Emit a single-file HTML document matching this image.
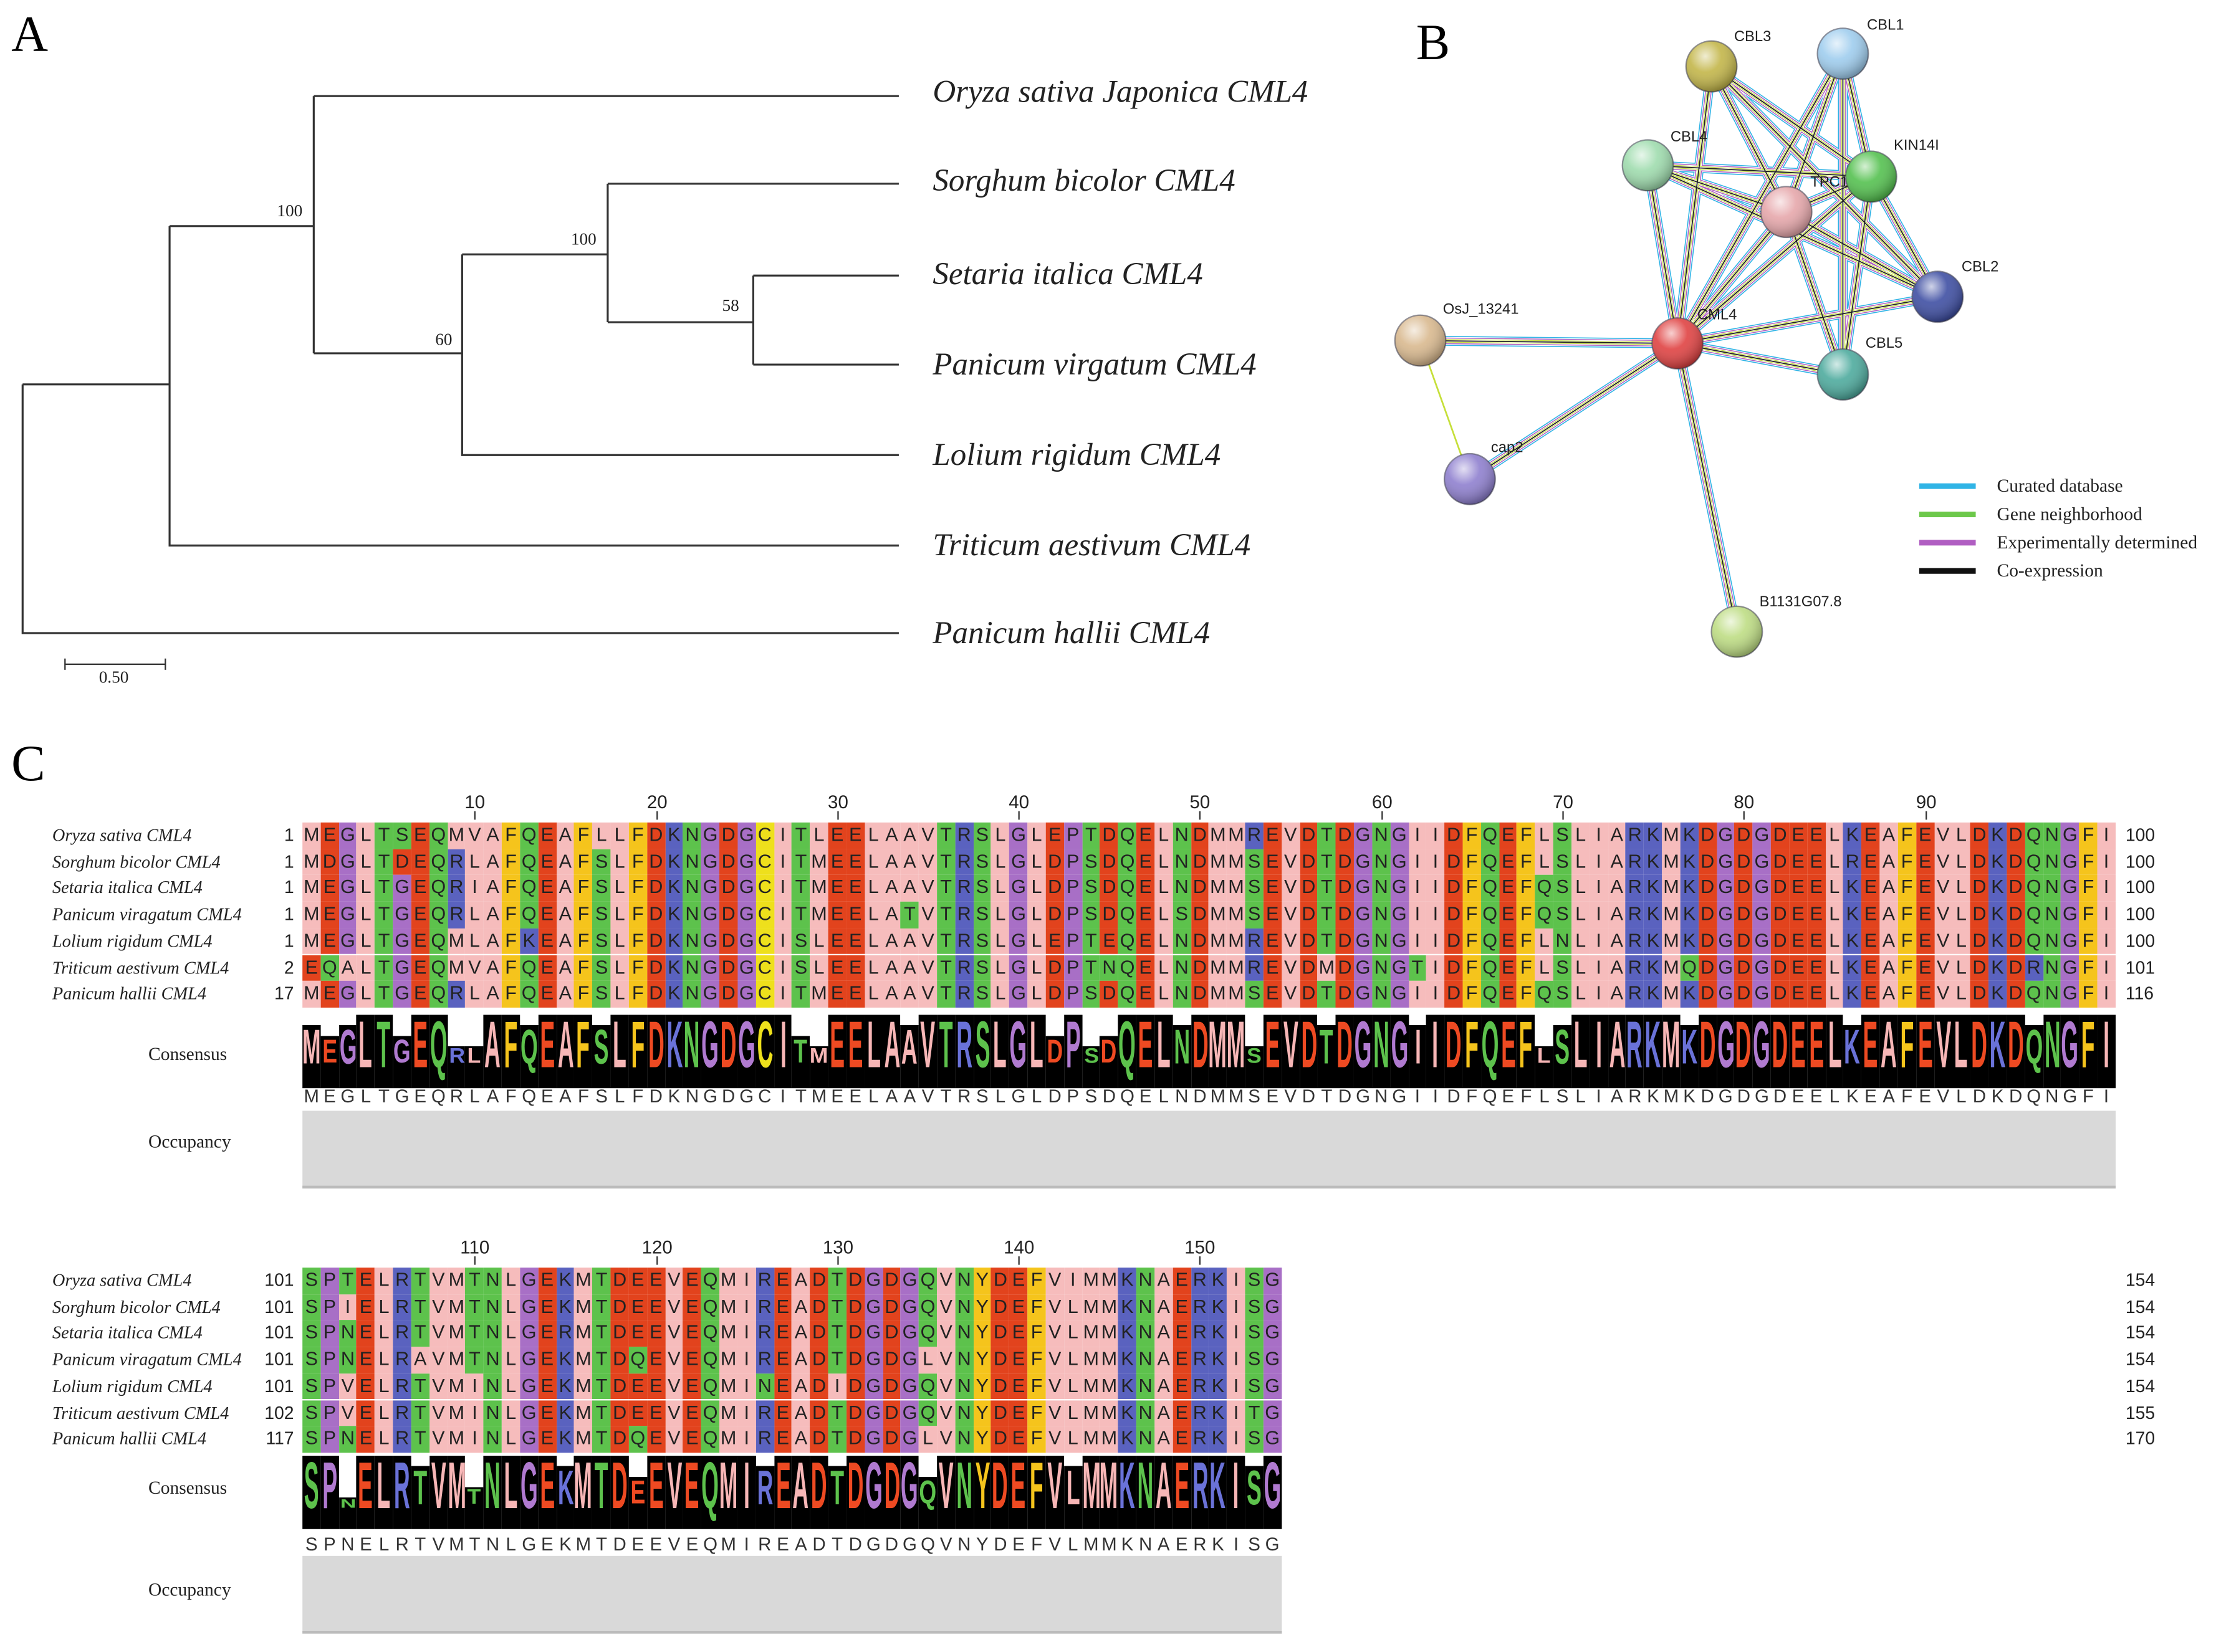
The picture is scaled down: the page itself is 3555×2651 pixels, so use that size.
<!DOCTYPE html>
<html><head><meta charset="utf-8"><style>
html,body{margin:0;padding:0;background:#fff;width:3555px;height:2651px;overflow:hidden}
#w{position:absolute;left:0;top:0;width:1568px;height:1169px;transform:scale(2.2672,2.2678);transform-origin:0 0;font-family:"Liberation Sans",sans-serif}
svg{position:absolute;left:0;top:0}
.r{position:absolute;left:214px;display:flex;height:18.7px}
.r i,.t i{font-style:normal;display:block;width:12.83px;height:18.7px;line-height:18.7px;text-align:center;font-size:13.5px;color:#222}
.r .A,.r .V,.r .L,.r .I,.r .M,.r .W{background:#f6bcbc}
.r .F,.r .Y{background:#f5c41c}.r .C{background:#eee01c}
.r .G,.r .P{background:#a86fc6}
.r .D,.r .E{background:#e2431d}
.r .K,.r .R,.r .H{background:#5a62bf}
.r .S,.r .T,.r .N,.r .Q{background:#5dc24c}
.cn{position:absolute;left:214px;display:flex}
.cn b{position:relative;width:12.83px;height:52px;background:linear-gradient(#fff calc((1 - var(--f,1))*52px),#000 0);overflow:hidden}
.cn b i{position:absolute;left:0;width:100%;top:calc((1 - var(--f,1))*52px);text-align:center;font:bold 15px/15px "Liberation Sans",sans-serif;font-style:normal;transform-origin:50% 0;transform:scale(1.05,calc(var(--f,1)*var(--f,1)*3.1))}
.cn .A,.cn .V,.cn .L,.cn .I,.cn .M{color:#f7b6b6}
.cn .F,.cn .Y{color:#f5c41c}.cn .C{color:#eee01c}
.cn .G,.cn .P{color:#b07ad0}
.cn .D,.cn .E{color:#ee4a22}
.cn .K,.cn .R{color:#6a72d8}
.cn .S,.cn .T,.cn .N,.cn .Q{color:#5dc24c}
.t{position:absolute;left:214px;display:flex}
.t i{color:#333;font-size:13px}
.lb{position:absolute;left:37px;font:italic 12.5px/18.7px "Liberation Serif",serif;color:#222;white-space:nowrap}
.n{position:absolute;width:40px;text-align:right;font:12.5px/18.7px "Liberation Sans",sans-serif;color:#222}
.n2{position:absolute;left:1504px;font:12.5px/18.7px "Liberation Sans",sans-serif;color:#222}
.occ{position:absolute;left:214px;background:#d9d9d9;border-bottom:2px solid #bbb}
.hd{position:absolute;font:13px "Liberation Serif",serif;color:#222}
</style></head><body><div id="w">
<svg width="1568" height="1169" viewBox="0 0 1568 1169">
<defs>
<radialGradient id="gl" cx="0.38" cy="0.3" r="0.7"><stop offset="0" stop-color="#fff" stop-opacity=".75"/><stop offset=".45" stop-color="#fff" stop-opacity=".1"/><stop offset="1" stop-color="#000" stop-opacity=".3"/></radialGradient>
<path id="ed" fill="none" d="M1187 243L1211 47M1187 243L1304 38M1187 243L1166 117M1187 243L1324 125M1187 243L1264 150M1187 243L1371 210M1187 243L1304 265M1187 243L1005 241M1187 243L1040 339M1187 243L1229 447M1211 47L1264 150M1211 47L1324 125M1211 47L1371 210M1304 38L1264 150M1304 38L1324 125M1304 38L1304 265M1166 117L1264 150M1166 117L1324 125M1166 117L1371 210M1264 150L1324 125M1264 150L1371 210M1264 150L1304 265M1324 125L1371 210M1324 125L1304 265"/>
</defs>
<text x="8" y="36" font-family="Liberation Serif" font-size="36">A</text>
<g stroke="#333" stroke-width="1.4" fill="none">
<path d="M16 272V448H636M16 272H120M120 160V386H636M120 160H222M222 68V250M222 68H636M222 250H327M327 180V322H636M327 180H430M430 130V228M430 130H636M430 228H533M533 195V258M533 195H636M533 258H636"/>
<path d="M46 470H117M46 466V474M117 466V474" stroke-width="1"/>
</g>
<g font-family="Liberation Serif" font-size="12" fill="#222">
<text x="196" y="153">100</text><text x="404" y="173">100</text><text x="308" y="244">60</text><text x="511" y="220">58</text><text x="70" y="483">0.50</text>
</g>
<g font-family="Liberation Serif" font-style="italic" font-size="22.5" fill="#222">
<text x="660" y="72">Oryza sativa Japonica CML4</text>
<text x="660" y="135">Sorghum bicolor CML4</text>
<text x="660" y="201">Setaria italica CML4</text>
<text x="660" y="265">Panicum virgatum CML4</text>
<text x="660" y="329">Lolium rigidum CML4</text>
<text x="660" y="393">Triticum aestivum CML4</text>
<text x="660" y="455">Panicum hallii CML4</text>
</g>
<text x="1002" y="42" font-family="Liberation Serif" font-size="36">B</text>
<text x="8" y="552" font-family="Liberation Serif" font-size="36">C</text>
<g fill="none">
<use href="#ed" stroke="#30b4e6" stroke-width="7"/>
<use href="#ed" stroke="#fff" stroke-width="5.6"/>
<use href="#ed" stroke="#b05ec2" stroke-width="4.6"/>
<use href="#ed" stroke="#fff" stroke-width="3.3"/>
<use href="#ed" stroke="#c6df3a" stroke-width="2.4"/>
<use href="#ed" stroke="#fff" stroke-width="1.4"/>
<use href="#ed" stroke="#222" stroke-width=".8"/>
</g>
<path d="M1005 241L1040 339" stroke="#c6df3a" stroke-width="1.2"/>
<g stroke="#445" stroke-width="1" stroke-opacity=".6">
<circle cx="1211" cy="47" r="18" fill="#c3b64a"/><circle cx="1304" cy="38" r="18" fill="#9fcdee"/>
<circle cx="1166" cy="117" r="18" fill="#9fdcae"/><circle cx="1324" cy="125" r="18" fill="#55c150"/>
<circle cx="1264" cy="150" r="18" fill="#e6a7ab"/><circle cx="1371" cy="210" r="18" fill="#3f4fa3"/>
<circle cx="1005" cy="241" r="18" fill="#d9b98f"/><circle cx="1187" cy="243" r="18" fill="#e04343"/>
<circle cx="1304" cy="265" r="18" fill="#4eab9e"/><circle cx="1040" cy="339" r="18" fill="#8f80cf"/>
<circle cx="1229" cy="447" r="18" fill="#bedd84"/>
</g>
<g fill="url(#gl)">
<circle cx="1211" cy="47" r="18"/><circle cx="1304" cy="38" r="18"/><circle cx="1166" cy="117" r="18"/><circle cx="1324" cy="125" r="18"/><circle cx="1264" cy="150" r="18"/><circle cx="1371" cy="210" r="18"/><circle cx="1005" cy="241" r="18"/><circle cx="1187" cy="243" r="18"/><circle cx="1304" cy="265" r="18"/><circle cx="1040" cy="339" r="18"/><circle cx="1229" cy="447" r="18"/>
</g>
<g font-family="Liberation Sans" font-size="10.5" fill="#222">
<text x="1227" y="29">CBL3</text><text x="1321" y="21">CBL1</text><text x="1182" y="100">CBL4</text><text x="1340" y="106">KIN14I</text><text x="1281" y="132">TPC1</text><text x="1388" y="192">CBL2</text><text x="1021" y="222">OsJ_13241</text><text x="1201" y="226">CML4</text><text x="1320" y="246">CBL5</text><text x="1055" y="320">cap2</text><text x="1245" y="429">B1131G07.8</text>
</g>
<g stroke-width="4"><path d="M1358 344H1398" stroke="#30b4e6"/><path d="M1358 364H1398" stroke="#6cc84a"/><path d="M1358 384H1398" stroke="#b05ec2"/><path d="M1358 404H1398" stroke="#111"/></g>
<g font-family="Liberation Serif" font-size="13" fill="#222"><text x="1413" y="348">Curated database</text><text x="1413" y="368">Gene neighborhood</text><text x="1413" y="388">Experimentally determined</text><text x="1413" y="408">Co-expression</text></g>
<g font-family="Liberation Sans" font-size="13" fill="#222" text-anchor="middle">
<text x="336" y="572">10</text><text x="465" y="572">20</text><text x="593" y="572">30</text><text x="721" y="572">40</text><text x="849" y="572">50</text><text x="978" y="572">60</text><text x="1106" y="572">70</text><text x="1234" y="572">80</text><text x="1363" y="572">90</text>
<text x="336" y="887">110</text><text x="465" y="887">120</text><text x="593" y="887">130</text><text x="721" y="887">140</text><text x="849" y="887">150</text>
</g>
<g stroke="#333" stroke-width="1"><path d="M336 574V580M465 574V580M593 574V580M721 574V580M849 574V580M978 574V580M1106 574V580M1234 574V580M1363 574V580M336 889V895M465 889V895M593 889V895M721 889V895M849 889V895"/></g>
</svg>

<div class="lb" style="top:582px">Oryza sativa CML4</div>
<div class="lb" style="top:600.7px">Sorghum bicolor CML4</div>
<div class="lb" style="top:619.4px">Setaria italica CML4</div>
<div class="lb" style="top:638.1px">Panicum viragatum CML4</div>
<div class="lb" style="top:656.8px">Lolium rigidum CML4</div>
<div class="lb" style="top:675.5px">Triticum aestivum CML4</div>
<div class="lb" style="top:694.2px">Panicum hallii CML4</div>
<div class="n" style="left:168px;top:582px">1</div><div class="n" style="left:168px;top:600.7px">1</div><div class="n" style="left:168px;top:619.4px">1</div><div class="n" style="left:168px;top:638.1px">1</div><div class="n" style="left:168px;top:656.8px">1</div><div class="n" style="left:168px;top:675.5px">2</div><div class="n" style="left:168px;top:694.2px">17</div>
<div class="n2" style="top:582px">100</div><div class="n2" style="top:600.7px">100</div><div class="n2" style="top:619.4px">100</div><div class="n2" style="top:638.1px">100</div><div class="n2" style="top:656.8px">100</div><div class="n2" style="top:675.5px">101</div><div class="n2" style="top:694.2px">116</div>

<div class="r" style="top:582px"><i class=M>M</i><i class=E>E</i><i class=G>G</i><i class=L>L</i><i class=T>T</i><i class=S>S</i><i class=E>E</i><i class=Q>Q</i><i class=M>M</i><i class=V>V</i><i class=A>A</i><i class=F>F</i><i class=Q>Q</i><i class=E>E</i><i class=A>A</i><i class=F>F</i><i class=L>L</i><i class=L>L</i><i class=F>F</i><i class=D>D</i><i class=K>K</i><i class=N>N</i><i class=G>G</i><i class=D>D</i><i class=G>G</i><i class=C>C</i><i class=I>I</i><i class=T>T</i><i class=L>L</i><i class=E>E</i><i class=E>E</i><i class=L>L</i><i class=A>A</i><i class=A>A</i><i class=V>V</i><i class=T>T</i><i class=R>R</i><i class=S>S</i><i class=L>L</i><i class=G>G</i><i class=L>L</i><i class=E>E</i><i class=P>P</i><i class=T>T</i><i class=D>D</i><i class=Q>Q</i><i class=E>E</i><i class=L>L</i><i class=N>N</i><i class=D>D</i><i class=M>M</i><i class=M>M</i><i class=R>R</i><i class=E>E</i><i class=V>V</i><i class=D>D</i><i class=T>T</i><i class=D>D</i><i class=G>G</i><i class=N>N</i><i class=G>G</i><i class=I>I</i><i class=I>I</i><i class=D>D</i><i class=F>F</i><i class=Q>Q</i><i class=E>E</i><i class=F>F</i><i class=L>L</i><i class=S>S</i><i class=L>L</i><i class=I>I</i><i class=A>A</i><i class=R>R</i><i class=K>K</i><i class=M>M</i><i class=K>K</i><i class=D>D</i><i class=G>G</i><i class=D>D</i><i class=G>G</i><i class=D>D</i><i class=E>E</i><i class=E>E</i><i class=L>L</i><i class=K>K</i><i class=E>E</i><i class=A>A</i><i class=F>F</i><i class=E>E</i><i class=V>V</i><i class=L>L</i><i class=D>D</i><i class=K>K</i><i class=D>D</i><i class=Q>Q</i><i class=N>N</i><i class=G>G</i><i class=F>F</i><i class=I>I</i></div>
<div class="r" style="top:600.7px"><i class=M>M</i><i class=D>D</i><i class=G>G</i><i class=L>L</i><i class=T>T</i><i class=D>D</i><i class=E>E</i><i class=Q>Q</i><i class=R>R</i><i class=L>L</i><i class=A>A</i><i class=F>F</i><i class=Q>Q</i><i class=E>E</i><i class=A>A</i><i class=F>F</i><i class=S>S</i><i class=L>L</i><i class=F>F</i><i class=D>D</i><i class=K>K</i><i class=N>N</i><i class=G>G</i><i class=D>D</i><i class=G>G</i><i class=C>C</i><i class=I>I</i><i class=T>T</i><i class=M>M</i><i class=E>E</i><i class=E>E</i><i class=L>L</i><i class=A>A</i><i class=A>A</i><i class=V>V</i><i class=T>T</i><i class=R>R</i><i class=S>S</i><i class=L>L</i><i class=G>G</i><i class=L>L</i><i class=D>D</i><i class=P>P</i><i class=S>S</i><i class=D>D</i><i class=Q>Q</i><i class=E>E</i><i class=L>L</i><i class=N>N</i><i class=D>D</i><i class=M>M</i><i class=M>M</i><i class=S>S</i><i class=E>E</i><i class=V>V</i><i class=D>D</i><i class=T>T</i><i class=D>D</i><i class=G>G</i><i class=N>N</i><i class=G>G</i><i class=I>I</i><i class=I>I</i><i class=D>D</i><i class=F>F</i><i class=Q>Q</i><i class=E>E</i><i class=F>F</i><i class=L>L</i><i class=S>S</i><i class=L>L</i><i class=I>I</i><i class=A>A</i><i class=R>R</i><i class=K>K</i><i class=M>M</i><i class=K>K</i><i class=D>D</i><i class=G>G</i><i class=D>D</i><i class=G>G</i><i class=D>D</i><i class=E>E</i><i class=E>E</i><i class=L>L</i><i class=R>R</i><i class=E>E</i><i class=A>A</i><i class=F>F</i><i class=E>E</i><i class=V>V</i><i class=L>L</i><i class=D>D</i><i class=K>K</i><i class=D>D</i><i class=Q>Q</i><i class=N>N</i><i class=G>G</i><i class=F>F</i><i class=I>I</i></div>
<div class="r" style="top:619.4px"><i class=M>M</i><i class=E>E</i><i class=G>G</i><i class=L>L</i><i class=T>T</i><i class=G>G</i><i class=E>E</i><i class=Q>Q</i><i class=R>R</i><i class=I>I</i><i class=A>A</i><i class=F>F</i><i class=Q>Q</i><i class=E>E</i><i class=A>A</i><i class=F>F</i><i class=S>S</i><i class=L>L</i><i class=F>F</i><i class=D>D</i><i class=K>K</i><i class=N>N</i><i class=G>G</i><i class=D>D</i><i class=G>G</i><i class=C>C</i><i class=I>I</i><i class=T>T</i><i class=M>M</i><i class=E>E</i><i class=E>E</i><i class=L>L</i><i class=A>A</i><i class=A>A</i><i class=V>V</i><i class=T>T</i><i class=R>R</i><i class=S>S</i><i class=L>L</i><i class=G>G</i><i class=L>L</i><i class=D>D</i><i class=P>P</i><i class=S>S</i><i class=D>D</i><i class=Q>Q</i><i class=E>E</i><i class=L>L</i><i class=N>N</i><i class=D>D</i><i class=M>M</i><i class=M>M</i><i class=S>S</i><i class=E>E</i><i class=V>V</i><i class=D>D</i><i class=T>T</i><i class=D>D</i><i class=G>G</i><i class=N>N</i><i class=G>G</i><i class=I>I</i><i class=I>I</i><i class=D>D</i><i class=F>F</i><i class=Q>Q</i><i class=E>E</i><i class=F>F</i><i class=Q>Q</i><i class=S>S</i><i class=L>L</i><i class=I>I</i><i class=A>A</i><i class=R>R</i><i class=K>K</i><i class=M>M</i><i class=K>K</i><i class=D>D</i><i class=G>G</i><i class=D>D</i><i class=G>G</i><i class=D>D</i><i class=E>E</i><i class=E>E</i><i class=L>L</i><i class=K>K</i><i class=E>E</i><i class=A>A</i><i class=F>F</i><i class=E>E</i><i class=V>V</i><i class=L>L</i><i class=D>D</i><i class=K>K</i><i class=D>D</i><i class=Q>Q</i><i class=N>N</i><i class=G>G</i><i class=F>F</i><i class=I>I</i></div>
<div class="r" style="top:638.1px"><i class=M>M</i><i class=E>E</i><i class=G>G</i><i class=L>L</i><i class=T>T</i><i class=G>G</i><i class=E>E</i><i class=Q>Q</i><i class=R>R</i><i class=L>L</i><i class=A>A</i><i class=F>F</i><i class=Q>Q</i><i class=E>E</i><i class=A>A</i><i class=F>F</i><i class=S>S</i><i class=L>L</i><i class=F>F</i><i class=D>D</i><i class=K>K</i><i class=N>N</i><i class=G>G</i><i class=D>D</i><i class=G>G</i><i class=C>C</i><i class=I>I</i><i class=T>T</i><i class=M>M</i><i class=E>E</i><i class=E>E</i><i class=L>L</i><i class=A>A</i><i class=T>T</i><i class=V>V</i><i class=T>T</i><i class=R>R</i><i class=S>S</i><i class=L>L</i><i class=G>G</i><i class=L>L</i><i class=D>D</i><i class=P>P</i><i class=S>S</i><i class=D>D</i><i class=Q>Q</i><i class=E>E</i><i class=L>L</i><i class=S>S</i><i class=D>D</i><i class=M>M</i><i class=M>M</i><i class=S>S</i><i class=E>E</i><i class=V>V</i><i class=D>D</i><i class=T>T</i><i class=D>D</i><i class=G>G</i><i class=N>N</i><i class=G>G</i><i class=I>I</i><i class=I>I</i><i class=D>D</i><i class=F>F</i><i class=Q>Q</i><i class=E>E</i><i class=F>F</i><i class=Q>Q</i><i class=S>S</i><i class=L>L</i><i class=I>I</i><i class=A>A</i><i class=R>R</i><i class=K>K</i><i class=M>M</i><i class=K>K</i><i class=D>D</i><i class=G>G</i><i class=D>D</i><i class=G>G</i><i class=D>D</i><i class=E>E</i><i class=E>E</i><i class=L>L</i><i class=K>K</i><i class=E>E</i><i class=A>A</i><i class=F>F</i><i class=E>E</i><i class=V>V</i><i class=L>L</i><i class=D>D</i><i class=K>K</i><i class=D>D</i><i class=Q>Q</i><i class=N>N</i><i class=G>G</i><i class=F>F</i><i class=I>I</i></div>
<div class="r" style="top:656.8px"><i class=M>M</i><i class=E>E</i><i class=G>G</i><i class=L>L</i><i class=T>T</i><i class=G>G</i><i class=E>E</i><i class=Q>Q</i><i class=M>M</i><i class=L>L</i><i class=A>A</i><i class=F>F</i><i class=K>K</i><i class=E>E</i><i class=A>A</i><i class=F>F</i><i class=S>S</i><i class=L>L</i><i class=F>F</i><i class=D>D</i><i class=K>K</i><i class=N>N</i><i class=G>G</i><i class=D>D</i><i class=G>G</i><i class=C>C</i><i class=I>I</i><i class=S>S</i><i class=L>L</i><i class=E>E</i><i class=E>E</i><i class=L>L</i><i class=A>A</i><i class=A>A</i><i class=V>V</i><i class=T>T</i><i class=R>R</i><i class=S>S</i><i class=L>L</i><i class=G>G</i><i class=L>L</i><i class=E>E</i><i class=P>P</i><i class=T>T</i><i class=E>E</i><i class=Q>Q</i><i class=E>E</i><i class=L>L</i><i class=N>N</i><i class=D>D</i><i class=M>M</i><i class=M>M</i><i class=R>R</i><i class=E>E</i><i class=V>V</i><i class=D>D</i><i class=T>T</i><i class=D>D</i><i class=G>G</i><i class=N>N</i><i class=G>G</i><i class=I>I</i><i class=I>I</i><i class=D>D</i><i class=F>F</i><i class=Q>Q</i><i class=E>E</i><i class=F>F</i><i class=L>L</i><i class=N>N</i><i class=L>L</i><i class=I>I</i><i class=A>A</i><i class=R>R</i><i class=K>K</i><i class=M>M</i><i class=K>K</i><i class=D>D</i><i class=G>G</i><i class=D>D</i><i class=G>G</i><i class=D>D</i><i class=E>E</i><i class=E>E</i><i class=L>L</i><i class=K>K</i><i class=E>E</i><i class=A>A</i><i class=F>F</i><i class=E>E</i><i class=V>V</i><i class=L>L</i><i class=D>D</i><i class=K>K</i><i class=D>D</i><i class=Q>Q</i><i class=N>N</i><i class=G>G</i><i class=F>F</i><i class=I>I</i></div>
<div class="r" style="top:675.5px"><i class=E>E</i><i class=Q>Q</i><i class=A>A</i><i class=L>L</i><i class=T>T</i><i class=G>G</i><i class=E>E</i><i class=Q>Q</i><i class=M>M</i><i class=V>V</i><i class=A>A</i><i class=F>F</i><i class=Q>Q</i><i class=E>E</i><i class=A>A</i><i class=F>F</i><i class=S>S</i><i class=L>L</i><i class=F>F</i><i class=D>D</i><i class=K>K</i><i class=N>N</i><i class=G>G</i><i class=D>D</i><i class=G>G</i><i class=C>C</i><i class=I>I</i><i class=S>S</i><i class=L>L</i><i class=E>E</i><i class=E>E</i><i class=L>L</i><i class=A>A</i><i class=A>A</i><i class=V>V</i><i class=T>T</i><i class=R>R</i><i class=S>S</i><i class=L>L</i><i class=G>G</i><i class=L>L</i><i class=D>D</i><i class=P>P</i><i class=T>T</i><i class=N>N</i><i class=Q>Q</i><i class=E>E</i><i class=L>L</i><i class=N>N</i><i class=D>D</i><i class=M>M</i><i class=M>M</i><i class=R>R</i><i class=E>E</i><i class=V>V</i><i class=D>D</i><i class=M>M</i><i class=D>D</i><i class=G>G</i><i class=N>N</i><i class=G>G</i><i class=T>T</i><i class=I>I</i><i class=D>D</i><i class=F>F</i><i class=Q>Q</i><i class=E>E</i><i class=F>F</i><i class=L>L</i><i class=S>S</i><i class=L>L</i><i class=I>I</i><i class=A>A</i><i class=R>R</i><i class=K>K</i><i class=M>M</i><i class=Q>Q</i><i class=D>D</i><i class=G>G</i><i class=D>D</i><i class=G>G</i><i class=D>D</i><i class=E>E</i><i class=E>E</i><i class=L>L</i><i class=K>K</i><i class=E>E</i><i class=A>A</i><i class=F>F</i><i class=E>E</i><i class=V>V</i><i class=L>L</i><i class=D>D</i><i class=K>K</i><i class=D>D</i><i class=R>R</i><i class=N>N</i><i class=G>G</i><i class=F>F</i><i class=I>I</i></div>
<div class="r" style="top:694.2px"><i class=M>M</i><i class=E>E</i><i class=G>G</i><i class=L>L</i><i class=T>T</i><i class=G>G</i><i class=E>E</i><i class=Q>Q</i><i class=R>R</i><i class=L>L</i><i class=A>A</i><i class=F>F</i><i class=Q>Q</i><i class=E>E</i><i class=A>A</i><i class=F>F</i><i class=S>S</i><i class=L>L</i><i class=F>F</i><i class=D>D</i><i class=K>K</i><i class=N>N</i><i class=G>G</i><i class=D>D</i><i class=G>G</i><i class=C>C</i><i class=I>I</i><i class=T>T</i><i class=M>M</i><i class=E>E</i><i class=E>E</i><i class=L>L</i><i class=A>A</i><i class=A>A</i><i class=V>V</i><i class=T>T</i><i class=R>R</i><i class=S>S</i><i class=L>L</i><i class=G>G</i><i class=L>L</i><i class=D>D</i><i class=P>P</i><i class=S>S</i><i class=D>D</i><i class=Q>Q</i><i class=E>E</i><i class=L>L</i><i class=N>N</i><i class=D>D</i><i class=M>M</i><i class=M>M</i><i class=S>S</i><i class=E>E</i><i class=V>V</i><i class=D>D</i><i class=T>T</i><i class=D>D</i><i class=G>G</i><i class=N>N</i><i class=G>G</i><i class=I>I</i><i class=I>I</i><i class=D>D</i><i class=F>F</i><i class=Q>Q</i><i class=E>E</i><i class=F>F</i><i class=Q>Q</i><i class=S>S</i><i class=L>L</i><i class=I>I</i><i class=A>A</i><i class=R>R</i><i class=K>K</i><i class=M>M</i><i class=K>K</i><i class=D>D</i><i class=G>G</i><i class=D>D</i><i class=G>G</i><i class=D>D</i><i class=E>E</i><i class=E>E</i><i class=L>L</i><i class=K>K</i><i class=E>E</i><i class=A>A</i><i class=F>F</i><i class=E>E</i><i class=V>V</i><i class=L>L</i><i class=D>D</i><i class=K>K</i><i class=D>D</i><i class=Q>Q</i><i class=N>N</i><i class=G>G</i><i class=F>F</i><i class=I>I</i></div>

<div class="hd" style="left:105px;top:738px">Consensus</div>
<div class="cn" style="top:718px"><b style="--f:.86"><i class=M>M</i></b><b style="--f:.71"><i class=E>E</i></b><b style="--f:.86"><i class=G>G</i></b><b><i class=L>L</i></b><b><i class=T>T</i></b><b style="--f:.71"><i class=G>G</i></b><b><i class=E>E</i></b><b><i class=Q>Q</i></b><b style="--f:.57"><i class=R>R</i></b><b style="--f:.57"><i class=L>L</i></b><b><i class=A>A</i></b><b><i class=F>F</i></b><b style="--f:.86"><i class=Q>Q</i></b><b><i class=E>E</i></b><b><i class=A>A</i></b><b><i class=F>F</i></b><b style="--f:.86"><i class=S>S</i></b><b><i class=L>L</i></b><b><i class=F>F</i></b><b><i class=D>D</i></b><b><i class=K>K</i></b><b><i class=N>N</i></b><b><i class=G>G</i></b><b><i class=D>D</i></b><b><i class=G>G</i></b><b><i class=C>C</i></b><b><i class=I>I</i></b><b style="--f:.71"><i class=T>T</i></b><b style="--f:.57"><i class=M>M</i></b><b><i class=E>E</i></b><b><i class=E>E</i></b><b><i class=L>L</i></b><b><i class=A>A</i></b><b style="--f:.86"><i class=A>A</i></b><b><i class=V>V</i></b><b><i class=T>T</i></b><b><i class=R>R</i></b><b><i class=S>S</i></b><b><i class=L>L</i></b><b><i class=G>G</i></b><b><i class=L>L</i></b><b style="--f:.71"><i class=D>D</i></b><b><i class=P>P</i></b><b style="--f:.57"><i class=S>S</i></b><b style="--f:.71"><i class=D>D</i></b><b><i class=Q>Q</i></b><b><i class=E>E</i></b><b><i class=L>L</i></b><b style="--f:.86"><i class=N>N</i></b><b><i class=D>D</i></b><b><i class=M>M</i></b><b><i class=M>M</i></b><b style="--f:.57"><i class=S>S</i></b><b><i class=E>E</i></b><b><i class=V>V</i></b><b><i class=D>D</i></b><b style="--f:.86"><i class=T>T</i></b><b><i class=D>D</i></b><b><i class=G>G</i></b><b><i class=N>N</i></b><b><i class=G>G</i></b><b style="--f:.86"><i class=I>I</i></b><b><i class=I>I</i></b><b><i class=D>D</i></b><b><i class=F>F</i></b><b><i class=Q>Q</i></b><b><i class=E>E</i></b><b><i class=F>F</i></b><b style="--f:.57"><i class=L>L</i></b><b style="--f:.86"><i class=S>S</i></b><b><i class=L>L</i></b><b><i class=I>I</i></b><b><i class=A>A</i></b><b><i class=R>R</i></b><b><i class=K>K</i></b><b><i class=M>M</i></b><b style="--f:.86"><i class=K>K</i></b><b><i class=D>D</i></b><b><i class=G>G</i></b><b><i class=D>D</i></b><b><i class=G>G</i></b><b><i class=D>D</i></b><b><i class=E>E</i></b><b><i class=E>E</i></b><b><i class=L>L</i></b><b style="--f:.86"><i class=K>K</i></b><b><i class=E>E</i></b><b><i class=A>A</i></b><b><i class=F>F</i></b><b><i class=E>E</i></b><b><i class=V>V</i></b><b><i class=L>L</i></b><b><i class=D>D</i></b><b><i class=K>K</i></b><b><i class=D>D</i></b><b style="--f:.86"><i class=Q>Q</i></b><b><i class=N>N</i></b><b><i class=G>G</i></b><b><i class=F>F</i></b><b><i class=I>I</i></b></div>
<div class="t" style="top:767px"><i>M</i><i>E</i><i>G</i><i>L</i><i>T</i><i>G</i><i>E</i><i>Q</i><i>R</i><i>L</i><i>A</i><i>F</i><i>Q</i><i>E</i><i>A</i><i>F</i><i>S</i><i>L</i><i>F</i><i>D</i><i>K</i><i>N</i><i>G</i><i>D</i><i>G</i><i>C</i><i>I</i><i>T</i><i>M</i><i>E</i><i>E</i><i>L</i><i>A</i><i>A</i><i>V</i><i>T</i><i>R</i><i>S</i><i>L</i><i>G</i><i>L</i><i>D</i><i>P</i><i>S</i><i>D</i><i>Q</i><i>E</i><i>L</i><i>N</i><i>D</i><i>M</i><i>M</i><i>S</i><i>E</i><i>V</i><i>D</i><i>T</i><i>D</i><i>G</i><i>N</i><i>G</i><i>I</i><i>I</i><i>D</i><i>F</i><i>Q</i><i>E</i><i>F</i><i>L</i><i>S</i><i>L</i><i>I</i><i>A</i><i>R</i><i>K</i><i>M</i><i>K</i><i>D</i><i>G</i><i>D</i><i>G</i><i>D</i><i>E</i><i>E</i><i>L</i><i>K</i><i>E</i><i>A</i><i>F</i><i>E</i><i>V</i><i>L</i><i>D</i><i>K</i><i>D</i><i>Q</i><i>N</i><i>G</i><i>F</i><i>I</i></div>
<div class="hd" style="left:105px;top:800px">Occupancy</div>
<div class="occ" style="top:786px;width:1283px;height:53px"></div>

<div class="lb" style="top:897px">Oryza sativa CML4</div>
<div class="lb" style="top:915.7px">Sorghum bicolor CML4</div>
<div class="lb" style="top:934.4px">Setaria italica CML4</div>
<div class="lb" style="top:953.1px">Panicum viragatum CML4</div>
<div class="lb" style="top:971.8px">Lolium rigidum CML4</div>
<div class="lb" style="top:990.5px">Triticum aestivum CML4</div>
<div class="lb" style="top:1009.2px">Panicum hallii CML4</div>
<div class="n" style="left:168px;top:897px">101</div><div class="n" style="left:168px;top:915.7px">101</div><div class="n" style="left:168px;top:934.4px">101</div><div class="n" style="left:168px;top:953.1px">101</div><div class="n" style="left:168px;top:971.8px">101</div><div class="n" style="left:168px;top:990.5px">102</div><div class="n" style="left:168px;top:1009.2px">117</div>
<div class="n2" style="top:897px">154</div><div class="n2" style="top:915.7px">154</div><div class="n2" style="top:934.4px">154</div><div class="n2" style="top:953.1px">154</div><div class="n2" style="top:971.8px">154</div><div class="n2" style="top:990.5px">155</div><div class="n2" style="top:1009.2px">170</div>

<div class="r" style="top:897px"><i class=S>S</i><i class=P>P</i><i class=T>T</i><i class=E>E</i><i class=L>L</i><i class=R>R</i><i class=T>T</i><i class=V>V</i><i class=M>M</i><i class=T>T</i><i class=N>N</i><i class=L>L</i><i class=G>G</i><i class=E>E</i><i class=K>K</i><i class=M>M</i><i class=T>T</i><i class=D>D</i><i class=E>E</i><i class=E>E</i><i class=V>V</i><i class=E>E</i><i class=Q>Q</i><i class=M>M</i><i class=I>I</i><i class=R>R</i><i class=E>E</i><i class=A>A</i><i class=D>D</i><i class=T>T</i><i class=D>D</i><i class=G>G</i><i class=D>D</i><i class=G>G</i><i class=Q>Q</i><i class=V>V</i><i class=N>N</i><i class=Y>Y</i><i class=D>D</i><i class=E>E</i><i class=F>F</i><i class=V>V</i><i class=I>I</i><i class=M>M</i><i class=M>M</i><i class=K>K</i><i class=N>N</i><i class=A>A</i><i class=E>E</i><i class=R>R</i><i class=K>K</i><i class=I>I</i><i class=S>S</i><i class=G>G</i></div>
<div class="r" style="top:915.7px"><i class=S>S</i><i class=P>P</i><i class=I>I</i><i class=E>E</i><i class=L>L</i><i class=R>R</i><i class=T>T</i><i class=V>V</i><i class=M>M</i><i class=T>T</i><i class=N>N</i><i class=L>L</i><i class=G>G</i><i class=E>E</i><i class=K>K</i><i class=M>M</i><i class=T>T</i><i class=D>D</i><i class=E>E</i><i class=E>E</i><i class=V>V</i><i class=E>E</i><i class=Q>Q</i><i class=M>M</i><i class=I>I</i><i class=R>R</i><i class=E>E</i><i class=A>A</i><i class=D>D</i><i class=T>T</i><i class=D>D</i><i class=G>G</i><i class=D>D</i><i class=G>G</i><i class=Q>Q</i><i class=V>V</i><i class=N>N</i><i class=Y>Y</i><i class=D>D</i><i class=E>E</i><i class=F>F</i><i class=V>V</i><i class=L>L</i><i class=M>M</i><i class=M>M</i><i class=K>K</i><i class=N>N</i><i class=A>A</i><i class=E>E</i><i class=R>R</i><i class=K>K</i><i class=I>I</i><i class=S>S</i><i class=G>G</i></div>
<div class="r" style="top:934.4px"><i class=S>S</i><i class=P>P</i><i class=N>N</i><i class=E>E</i><i class=L>L</i><i class=R>R</i><i class=T>T</i><i class=V>V</i><i class=M>M</i><i class=T>T</i><i class=N>N</i><i class=L>L</i><i class=G>G</i><i class=E>E</i><i class=R>R</i><i class=M>M</i><i class=T>T</i><i class=D>D</i><i class=E>E</i><i class=E>E</i><i class=V>V</i><i class=E>E</i><i class=Q>Q</i><i class=M>M</i><i class=I>I</i><i class=R>R</i><i class=E>E</i><i class=A>A</i><i class=D>D</i><i class=T>T</i><i class=D>D</i><i class=G>G</i><i class=D>D</i><i class=G>G</i><i class=Q>Q</i><i class=V>V</i><i class=N>N</i><i class=Y>Y</i><i class=D>D</i><i class=E>E</i><i class=F>F</i><i class=V>V</i><i class=L>L</i><i class=M>M</i><i class=M>M</i><i class=K>K</i><i class=N>N</i><i class=A>A</i><i class=E>E</i><i class=R>R</i><i class=K>K</i><i class=I>I</i><i class=S>S</i><i class=G>G</i></div>
<div class="r" style="top:953.1px"><i class=S>S</i><i class=P>P</i><i class=N>N</i><i class=E>E</i><i class=L>L</i><i class=R>R</i><i class=A>A</i><i class=V>V</i><i class=M>M</i><i class=T>T</i><i class=N>N</i><i class=L>L</i><i class=G>G</i><i class=E>E</i><i class=K>K</i><i class=M>M</i><i class=T>T</i><i class=D>D</i><i class=Q>Q</i><i class=E>E</i><i class=V>V</i><i class=E>E</i><i class=Q>Q</i><i class=M>M</i><i class=I>I</i><i class=R>R</i><i class=E>E</i><i class=A>A</i><i class=D>D</i><i class=T>T</i><i class=D>D</i><i class=G>G</i><i class=D>D</i><i class=G>G</i><i class=L>L</i><i class=V>V</i><i class=N>N</i><i class=Y>Y</i><i class=D>D</i><i class=E>E</i><i class=F>F</i><i class=V>V</i><i class=L>L</i><i class=M>M</i><i class=M>M</i><i class=K>K</i><i class=N>N</i><i class=A>A</i><i class=E>E</i><i class=R>R</i><i class=K>K</i><i class=I>I</i><i class=S>S</i><i class=G>G</i></div>
<div class="r" style="top:971.8px"><i class=S>S</i><i class=P>P</i><i class=V>V</i><i class=E>E</i><i class=L>L</i><i class=R>R</i><i class=T>T</i><i class=V>V</i><i class=M>M</i><i class=I>I</i><i class=N>N</i><i class=L>L</i><i class=G>G</i><i class=E>E</i><i class=K>K</i><i class=M>M</i><i class=T>T</i><i class=D>D</i><i class=E>E</i><i class=E>E</i><i class=V>V</i><i class=E>E</i><i class=Q>Q</i><i class=M>M</i><i class=I>I</i><i class=N>N</i><i class=E>E</i><i class=A>A</i><i class=D>D</i><i class=I>I</i><i class=D>D</i><i class=G>G</i><i class=D>D</i><i class=G>G</i><i class=Q>Q</i><i class=V>V</i><i class=N>N</i><i class=Y>Y</i><i class=D>D</i><i class=E>E</i><i class=F>F</i><i class=V>V</i><i class=L>L</i><i class=M>M</i><i class=M>M</i><i class=K>K</i><i class=N>N</i><i class=A>A</i><i class=E>E</i><i class=R>R</i><i class=K>K</i><i class=I>I</i><i class=S>S</i><i class=G>G</i></div>
<div class="r" style="top:990.5px"><i class=S>S</i><i class=P>P</i><i class=V>V</i><i class=E>E</i><i class=L>L</i><i class=R>R</i><i class=T>T</i><i class=V>V</i><i class=M>M</i><i class=I>I</i><i class=N>N</i><i class=L>L</i><i class=G>G</i><i class=E>E</i><i class=K>K</i><i class=M>M</i><i class=T>T</i><i class=D>D</i><i class=E>E</i><i class=E>E</i><i class=V>V</i><i class=E>E</i><i class=Q>Q</i><i class=M>M</i><i class=I>I</i><i class=R>R</i><i class=E>E</i><i class=A>A</i><i class=D>D</i><i class=T>T</i><i class=D>D</i><i class=G>G</i><i class=D>D</i><i class=G>G</i><i class=Q>Q</i><i class=V>V</i><i class=N>N</i><i class=Y>Y</i><i class=D>D</i><i class=E>E</i><i class=F>F</i><i class=V>V</i><i class=L>L</i><i class=M>M</i><i class=M>M</i><i class=K>K</i><i class=N>N</i><i class=A>A</i><i class=E>E</i><i class=R>R</i><i class=K>K</i><i class=I>I</i><i class=T>T</i><i class=G>G</i></div>
<div class="r" style="top:1009.2px"><i class=S>S</i><i class=P>P</i><i class=N>N</i><i class=E>E</i><i class=L>L</i><i class=R>R</i><i class=T>T</i><i class=V>V</i><i class=M>M</i><i class=I>I</i><i class=N>N</i><i class=L>L</i><i class=G>G</i><i class=E>E</i><i class=K>K</i><i class=M>M</i><i class=T>T</i><i class=D>D</i><i class=Q>Q</i><i class=E>E</i><i class=V>V</i><i class=E>E</i><i class=Q>Q</i><i class=M>M</i><i class=I>I</i><i class=R>R</i><i class=E>E</i><i class=A>A</i><i class=D>D</i><i class=T>T</i><i class=D>D</i><i class=G>G</i><i class=D>D</i><i class=G>G</i><i class=L>L</i><i class=V>V</i><i class=N>N</i><i class=Y>Y</i><i class=D>D</i><i class=E>E</i><i class=F>F</i><i class=V>V</i><i class=L>L</i><i class=M>M</i><i class=M>M</i><i class=K>K</i><i class=N>N</i><i class=A>A</i><i class=E>E</i><i class=R>R</i><i class=K>K</i><i class=I>I</i><i class=S>S</i><i class=G>G</i></div>

<div class="hd" style="left:105px;top:1045px">Consensus</div>
<div class="cn" style="top:1030px"><b><i class=S>S</i></b><b><i class=P>P</i></b><b style="--f:.43"><i class=N>N</i></b><b><i class=E>E</i></b><b><i class=L>L</i></b><b><i class=R>R</i></b><b style="--f:.86"><i class=T>T</i></b><b><i class=V>V</i></b><b><i class=M>M</i></b><b style="--f:.57"><i class=T>T</i></b><b><i class=N>N</i></b><b><i class=L>L</i></b><b><i class=G>G</i></b><b><i class=E>E</i></b><b style="--f:.86"><i class=K>K</i></b><b><i class=M>M</i></b><b><i class=T>T</i></b><b><i class=D>D</i></b><b style="--f:.71"><i class=E>E</i></b><b><i class=E>E</i></b><b><i class=V>V</i></b><b><i class=E>E</i></b><b><i class=Q>Q</i></b><b><i class=M>M</i></b><b><i class=I>I</i></b><b style="--f:.86"><i class=R>R</i></b><b><i class=E>E</i></b><b><i class=A>A</i></b><b><i class=D>D</i></b><b style="--f:.86"><i class=T>T</i></b><b><i class=D>D</i></b><b><i class=G>G</i></b><b><i class=D>D</i></b><b><i class=G>G</i></b><b style="--f:.71"><i class=Q>Q</i></b><b><i class=V>V</i></b><b><i class=N>N</i></b><b><i class=Y>Y</i></b><b><i class=D>D</i></b><b><i class=E>E</i></b><b><i class=F>F</i></b><b><i class=V>V</i></b><b style="--f:.86"><i class=L>L</i></b><b><i class=M>M</i></b><b><i class=M>M</i></b><b><i class=K>K</i></b><b><i class=N>N</i></b><b><i class=A>A</i></b><b><i class=E>E</i></b><b><i class=R>R</i></b><b><i class=K>K</i></b><b><i class=I>I</i></b><b style="--f:.86"><i class=S>S</i></b><b><i class=G>G</i></b></div>
<div class="t" style="top:1084px"><i>S</i><i>P</i><i>N</i><i>E</i><i>L</i><i>R</i><i>T</i><i>V</i><i>M</i><i>T</i><i>N</i><i>L</i><i>G</i><i>E</i><i>K</i><i>M</i><i>T</i><i>D</i><i>E</i><i>E</i><i>V</i><i>E</i><i>Q</i><i>M</i><i>I</i><i>R</i><i>E</i><i>A</i><i>D</i><i>T</i><i>D</i><i>G</i><i>D</i><i>G</i><i>Q</i><i>V</i><i>N</i><i>Y</i><i>D</i><i>E</i><i>F</i><i>V</i><i>L</i><i>M</i><i>M</i><i>K</i><i>N</i><i>A</i><i>E</i><i>R</i><i>K</i><i>I</i><i>S</i><i>G</i></div>
<div class="hd" style="left:105px;top:1117px">Occupancy</div>
<div class="occ" style="top:1101px;width:693px;height:53px"></div>
</div></body></html>
